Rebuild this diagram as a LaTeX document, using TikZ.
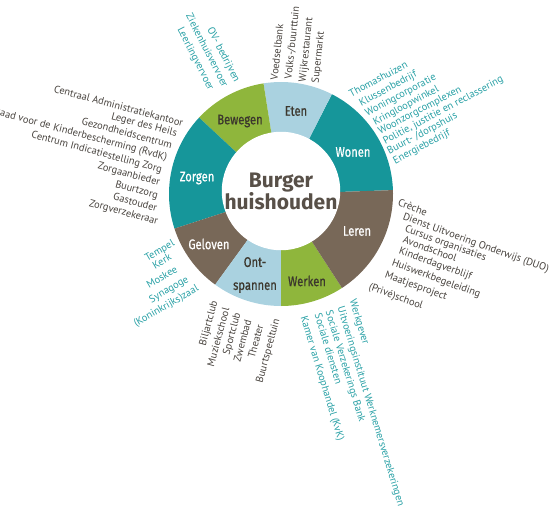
\documentclass[tikz,border=0pt]{standalone}
\usepackage{fontspec}
\setmainfont{PT Sans}
\newfontfamily\condfont[FakeStretch=0.8,FakeBold=0.6]{Fira Sans}
\newfontfamily\centrefont{Fira Sans}
\usetikzlibrary{calc}
\definecolor{segteal}{RGB}{22,150,154}
\definecolor{seglight}{RGB}{170,210,224}
\definecolor{seggreen}{RGB}{143,182,60}
\definecolor{segbrown}{RGB}{120,104,88}
\definecolor{darktext}{RGB}{72,67,62}
\definecolor{tealtext}{RGB}{40,160,165}
\definecolor{labeldark}{RGB}{60,55,45}
\definecolor{centertext}{RGB}{88,80,72}
\tikzset{
  lbl/.style={font=\fontsize{10.4}{12}\selectfont, inner sep=0pt, text height=7.5pt, text depth=2.2pt},
  tl/.style={lbl, text=tealtext},
  dl/.style={lbl, text=darktext},
  seglabel/.style={font=\condfont\fontsize{14}{15}\selectfont, inner sep=0pt, align=center},
  onlight/.style={seglabel, text=labeldark},
  ondark/.style={seglabel, text=white},
}
\begin{document}
\begin{tikzpicture}[x=1pt,y=1pt]
\useasboundingbox (0,0) rectangle (551,-516);
\coordinate (C) at (281,-194);
\def\R{112pt}
% ring segments
\fill[segteal]  (C) -- ($(C)+(2:\R)$)   arc[start angle=2,   end angle=63,  radius=\R] -- cycle;
\fill[seglight] (C) -- ($(C)+(63:\R)$)  arc[start angle=63,  end angle=99,  radius=\R] -- cycle;
\fill[seggreen] (C) -- ($(C)+(99:\R)$)  arc[start angle=99,  end angle=137, radius=\R] -- cycle;
\fill[segteal]  (C) -- ($(C)+(137:\R)$) arc[start angle=137, end angle=198, radius=\R] -- cycle;
\fill[segbrown] (C) -- ($(C)+(198:\R)$) arc[start angle=198, end angle=234, radius=\R] -- cycle;
\fill[seglight] (C) -- ($(C)+(234:\R)$) arc[start angle=234, end angle=270, radius=\R] -- cycle;
\fill[seggreen] (C) -- ($(C)+(270:\R)$) arc[start angle=270, end angle=303, radius=\R] -- cycle;
\fill[segbrown] (C) -- ($(C)+(303:\R)$) arc[start angle=303, end angle=362, radius=\R] -- cycle;
% centre
\node[circle, fill=white, minimum size=114pt, inner sep=0pt, align=center,
      font=\centrefont\bfseries\fontsize{21}{22}\selectfont, text=centertext] (centre) at (281,-191) {Burger\\huishouden};
% segment labels
\node[onlight] (eten)    at (296,-111) {Eten};
\node[onlight] (bewegen) at (240,-121) {Bewegen};
\node[ondark]  (wonen)   at (353,-152) {Wonen};
\node[ondark]  (zorgen)  at (197,-178) {Zorgen};
\node[ondark]  (leren)   at (357,-231) {Leren};
\node[ondark]  (geloven) at (209,-244) {Geloven};
\node[onlight, font=\condfont\fontsize{14}{23}\selectfont] (ontspannen) at (255,-275) {Ont-\\spannen};
\node[onlight] (werken)  at (307,-281) {Werken};
% Eten
\node[dl, rotate=84, anchor=west] (e1) at (275,-80) {Voedselbank};
\node[dl, rotate=84, anchor=west] (e2) at (289,-79) {Volks-/buurttuin};
\node[dl, rotate=84, anchor=west] (e3) at (303,-82) {Wijkrestaurant};
\node[dl, rotate=84, anchor=west] (e4) at (316,-83) {Supermarkt};
% Bewegen
\node[tl, rotate=-63, anchor=east] (b1) at (237,-82) {OV- bedrijven};
\node[tl, rotate=-63, anchor=east] (b2) at (225,-87) {Ziekenhuisvervoer};
\node[tl, rotate=-63, anchor=east] (b3) at (211,-90) {Leerlingvervoer};
% Wonen
\node[tl, rotate=28, anchor=west] (w1) at (350,-95) {Thomashuizen};
\node[tl, rotate=28, anchor=west] (w2) at (360,-104) {Klussenbedrijf};
\node[tl, rotate=28, anchor=west] (w3) at (366,-114) {Woningcorporatie};
\node[tl, rotate=28, anchor=west] (w4) at (374,-123) {Kringloopwinkel};
\node[tl, rotate=28, anchor=west] (w5) at (379,-132.5) {Woonzorgcomplexen};
\node[tl, rotate=28, anchor=west] (w6) at (384,-142) {Politie, justitie en reclassering};
\node[tl, rotate=28, anchor=west] (w7) at (388,-152) {Buurt- /dorpshuis};
\node[tl, rotate=28, anchor=west] (w8) at (394,-162) {Energiebedrijf};
% Zorgen
\node[dl, rotate=-15, anchor=east] (z1) at (183,-124) {Centraal Administratiekantoor};
\node[dl, rotate=-15, anchor=east] (z2) at (177,-134) {Leger des Heils};
\node[dl, rotate=-15, anchor=east] (z3) at (172,-146) {Gezondheidscentrum};
\node[dl, rotate=-15, anchor=east] (z4) at (167,-158) {Raad voor de Kinderbescherming (RvdK)};
\node[dl, rotate=-15, anchor=east] (z5) at (162,-170) {Centrum Indicatiestelling Zorg};
\node[dl, rotate=-15, anchor=east] (z6) at (160,-183) {Zorgaanbieder};
\node[dl, rotate=-15, anchor=east] (z7) at (158,-196) {Buurtzorg};
\node[dl, rotate=-15, anchor=east] (z8) at (157,-209) {Gastouder};
\node[dl, rotate=-15, anchor=east] (z9) at (158,-222) {Zorgverzekeraar};
% Leren
\node[dl, rotate=-20, anchor=west] (l1) at (398,-203) {Crèche};
\node[dl, rotate=-20, anchor=west] (l2) at (403,-217) {Dienst Uitvoering Onderwijs (DUO)};
\node[dl, rotate=-20, anchor=west] (l3) at (405,-229) {Cursus organisaties};
\node[dl, rotate=-20, anchor=west] (l4) at (403,-240) {Avondschool};
\node[dl, rotate=-20, anchor=west] (l5) at (399,-251) {Kinderdagverblijf};
\node[dl, rotate=-20, anchor=west] (l6) at (392,-263) {Huiswerkbegeleiding};
\node[dl, rotate=-20, anchor=west] (l7) at (385,-275) {Maatjesproject};
\node[dl, rotate=-20, anchor=west] (l8) at (369,-287) {(Privé)school};
% Werken
\node[tl, rotate=-73, anchor=west] (k1) at (352,-300) {Werkgever};
\node[tl, rotate=-73, anchor=west] (k2) at (340,-307) {Uitvoeringsinstituut Werknemersverzekeringen};
\node[tl, rotate=-73, anchor=west] (k3) at (328,-311) {Sociale Verzekerings Bank};
\node[tl, rotate=-73, anchor=west] (k4) at (317,-314) {Sociale diensten};
\node[tl, rotate=-73, anchor=west] (k5) at (303,-317) {Kamer van Koophandel (KvK)};
% Ontspannen
\node[dl, rotate=75, anchor=east] (o1) at (215,-301) {Biljartclub};
\node[dl, rotate=75, anchor=east] (o2) at (227,-308) {Muziekschool};
\node[dl, rotate=75, anchor=east] (o3) at (238,-313) {Sportclub};
\node[dl, rotate=75, anchor=east] (o4) at (249,-320) {Zwembad};
\node[dl, rotate=75, anchor=east] (o5) at (261,-325) {Theater};
\node[dl, rotate=75, anchor=east] (o6) at (277,-319) {Buurtspeeltuin};
% Geloven
\node[tl, rotate=30, anchor=east] (g1) at (174,-243) {Tempel};
\node[tl, rotate=30, anchor=east] (g2) at (171,-257) {Kerk};
\node[tl, rotate=30, anchor=east] (g3) at (177,-269) {Moskee};
\node[tl, rotate=30, anchor=east] (g4) at (188,-279) {Synagoge};
\node[tl, rotate=30, anchor=east] (g5) at (198,-288) {(Koninkrijks)zaal};
\end{tikzpicture}
\end{document}
